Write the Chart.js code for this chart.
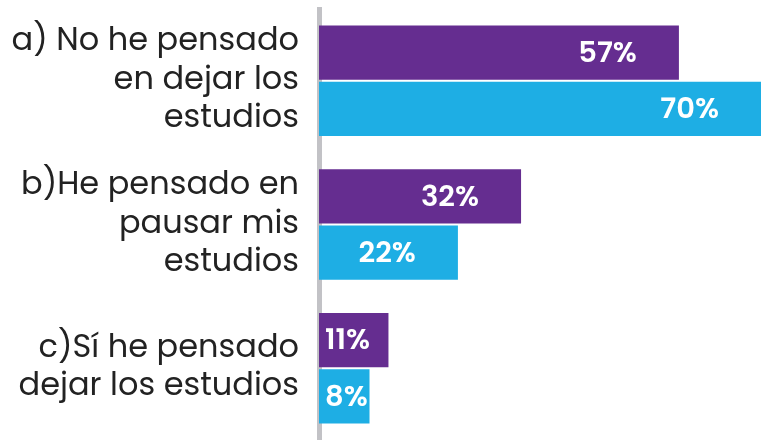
<!DOCTYPE html>
<html>
<head>
<meta charset="utf-8">
<script src="https://cdn.jsdelivr.net/npm/chart.js@4/dist/chart.umd.min.js"></script>
<style>
  html, body { margin: 0; padding: 0; background: #fff; }
  #wrap { width: 761px; height: 440px; }
</style>
</head>
<body>
<div id="wrap"><canvas id="barChart"></canvas></div>
<script>
// data
const categories = [
    ['a) No he pensado', 'en dejar los', 'estudios'],
    ['b)He pensado en', 'pausar mis', 'estudios'],
    ['c)Sí he pensado', 'dejar los estudios']
];
const seriesA = [57, 32, 11];
const seriesB = [70, 22, 8];

const PURPLE = '#652D90';
const CYAN = '#1EAEE4';

// white % labels drawn inside each bar
const barLabels = {
    id: 'barLabels',
    afterDatasetsDraw(chart) {
        const ctx = chart.ctx;
        ctx.save();
        ctx.font = '600 29px Poppins, Inter, sans-serif';
        ctx.fillStyle = '#fff';
        ctx.textBaseline = 'middle';
        chart.data.datasets.forEach((ds, di) => {
            chart.getDatasetMeta(di).data.forEach((bar, i) => {
                const txt = ds.data[i] + '%';
                const w = ctx.measureText(txt).width;
                let left = bar.x - 42 - w;
                if (left < bar.base + 6) left = bar.base + 6;
                ctx.textAlign = 'left';
                ctx.fillText(txt, left, bar.y + 2);
            });
        });
        ctx.restore();
    }
};

new Chart(document.getElementById('barChart'), {
    type: 'bar',
    data: {
        labels: categories,
        datasets: [
            { data: seriesA, backgroundColor: PURPLE, categoryPercentage: 0.783, barPercentage: 0.964 },
            { data: seriesB, backgroundColor: CYAN, categoryPercentage: 0.783, barPercentage: 0.964 }
        ]
    },
    options: {
        indexAxis: 'y',
        responsive: true,
        maintainAspectRatio: false,
        animation: false,
        layout: { padding: { top: 9, right: 0, bottom: 0, left: 0 } },
        plugins: { legend: { display: false }, tooltip: { enabled: false } },
        scales: {
            x: { display: false, min: 0, max: 70 },
            y: {
                grid: { display: false, drawTicks: false },
                border: { display: true, color: '#C2C2C6', width: 5 },
                ticks: {
                    color: '#222',
                    padding: 20,
                    font: { family: 'Poppins, "Noto Sans", sans-serif', size: 32, weight: 400 },
                    lineHeight: 1.17
                },
                afterFit(scale) {
                    scale.width = 319;
                    scale.paddingTop = 0;
                    scale.paddingBottom = 0;
                }
            }
        }
    },
    plugins: [barLabels]
});
</script>
</body>
</html>
